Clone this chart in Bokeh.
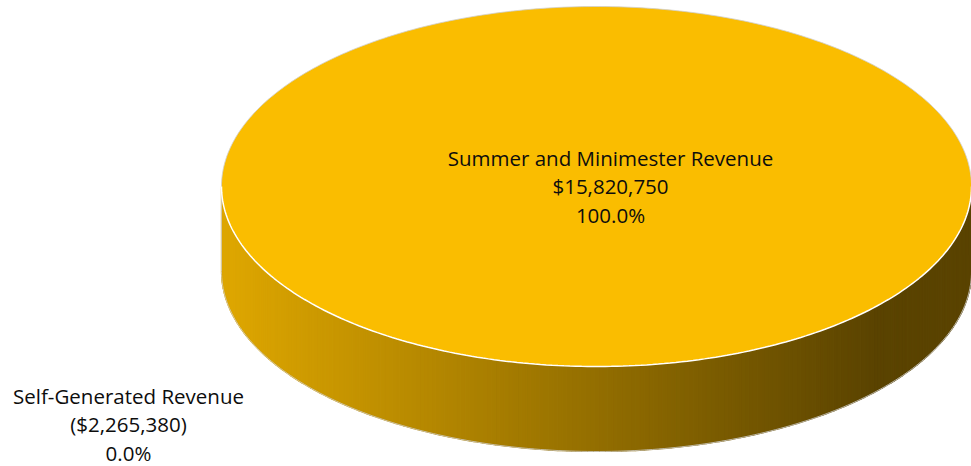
import numpy as np
from bokeh.plotting import figure
from bokeh.models import Range1d, ColumnDataSource
from bokeh.core.properties import value
from bokeh.embed import file_html
from bokeh.resources import INLINE

# ---- data ----
categories = ["Summer and Minimester Revenue", "Self-Generated Revenue"]
amounts = [15820750, -2265380]
amount_labels = ["$15,820,750", "($2,265,380)"]
percent_labels = ["100.0%", "0.0%"]

W, H = 971, 466
p = figure(width=W, height=H, output_backend="svg", toolbar_location=None,
           x_range=Range1d(0, W), y_range=Range1d(H, 0), min_border=0)
p.axis.visible = False
p.grid.visible = False
p.outline_line_color = None
p.background_fill_color = "white"
p.border_fill_color = "white"

# geometry of the 3-D pie (screen space)
cx, cy, rx, ry, depth = 596, 186, 375, 180, 85

pos = np.array([max(a, 0) for a in amounts], dtype=float)
fracs = pos / pos.sum()
top_color = "#FABD00"
c_left = np.array([0xDD, 0xA6, 0x00])
c_right = np.array([0x5A, 0x43, 0x00])

def side_color(x):
    t = np.clip((x - (cx - rx + 10)) / (2 * rx * 0.86), 0, 1)
    c = c_left * (1 - t) + c_right * t
    return "#%02x%02x%02x" % tuple(int(round(v)) for v in c)

start = 0.0
for frac in fracs:
    if frac <= 0:
        continue
    a0, a1 = start, start + 2 * np.pi * frac
    start = a1
    # side strips (front half only: angle in [0, pi])
    lo, hi = max(a0, 0.0), min(a1, np.pi)
    if hi > lo:
        ts = np.linspace(lo, hi, 260)
        xs, ys, cols = [], [], []
        for i in range(len(ts) - 1):
            t1, t2 = ts[i], ts[i + 1]
            x1, y1 = cx + rx * np.cos(t1), cy + ry * np.sin(t1)
            x2, y2 = cx + rx * np.cos(t2), cy + ry * np.sin(t2)
            xs.append([x1, x2, x2, x1])
            ys.append([y1, y2, y2 + depth, y1 + depth])
            cols.append(side_color((x1 + x2) / 2))
        p.patches(xs, ys, fill_color=cols, line_color=cols, line_width=1.2)
    # top face
    tt = np.linspace(a0, a1, 400)
    tx = list(cx + rx * np.cos(tt))
    ty = list(cy + ry * np.sin(tt))
    if frac < 1:
        tx = [cx] + tx
        ty = [cy] + ty
    p.patch(tx, ty, fill_color=top_color, line_color=None)

# outline: soft grey outer edge
tb = np.linspace(np.pi, 2 * np.pi, 200)
tf = np.linspace(0, np.pi, 200)
ox = list(cx + rx * np.cos(tb)) + [cx + rx] + list(cx + rx * np.cos(tf)) + [cx - rx, cx - rx]
oy = list(cy + ry * np.sin(tb)) + [cy + depth] + list(cy + depth + ry * np.sin(tf)) + [cy + depth, cy]
p.line(ox, oy, line_color="#cfcfcf", line_width=1, line_alpha=0.8)
# white edge between top and side
p.line(list(cx + rx * np.cos(tf)), list(cy + ry * np.sin(tf)), line_color="white", line_width=1.5)

# labels
font = value("Open Sans")
lab_x = [610, 128]
lab_y = [157, 395]
lh = 28.5
for i in range(len(categories)):
    src = ColumnDataSource(dict(x=[lab_x[i]] * 3,
                                y=[lab_y[i], lab_y[i] + lh, lab_y[i] + 2 * lh],
                                t=[categories[i], amount_labels[i], percent_labels[i]]))
    p.text(x="x", y="y", text="t", source=src, text_align="center", text_baseline="middle",
           text_font=font, text_font_size="20.5px", text_color="#0d0d0d")

open("out.html", "w").write(file_html(p, INLINE))
